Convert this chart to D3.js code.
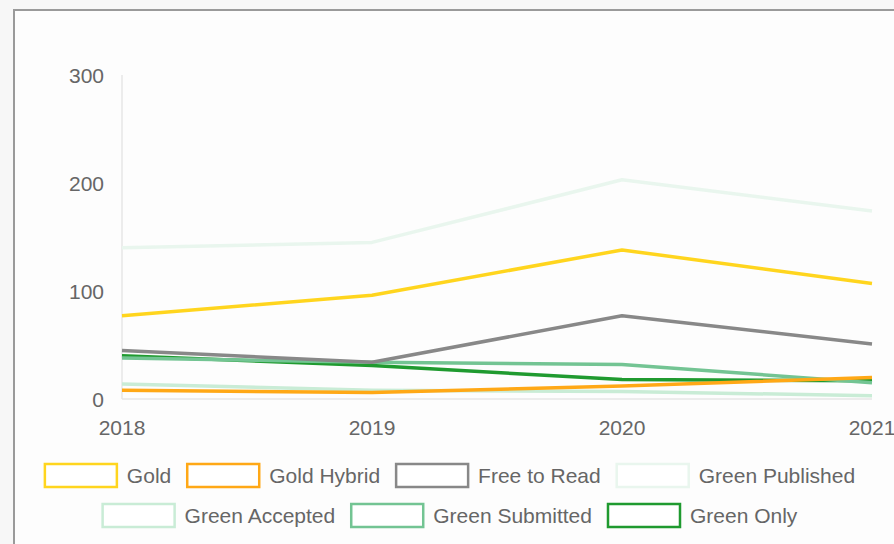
<!DOCTYPE html>
<html>
<head>
<meta charset="utf-8">
<script src="https://cdn.jsdelivr.net/npm/d3@7"></script>
<style>
  html, body { margin: 0; padding: 0; background: #f7f7f7; }
  #chart { position: absolute; left: 0; top: 0; }
  text { font-family: "Liberation Sans", Arial, sans-serif; fill: #666; }
</style>
</head>
<body>
<div id="chart"></div>
<script>
// data
const years = [2018, 2019, 2020, 2021];
const seriesNames = ["Gold", "Gold Hybrid", "Free to Read", "Green Published", "Green Accepted", "Green Submitted", "Green Only"];
const seriesColors = ["#ffd51e", "#ffa816", "#888888", "#e9f6ee", "#c9ecd6", "#73c493", "#1f9a2f"];
const gold = [77, 96, 138, 107];
const goldHybrid = [8, 6, 12, 20];
const freeToRead = [45, 34, 77, 51];
const greenPublished = [140, 145, 203, 174];
const greenAccepted = [14, 8, 7, 3];
const greenSubmitted = [38, 34, 32, 15];
const greenOnly = [40, 31, 18, 17];
const yTicks = [0, 100, 200, 300];

const seriesValues = [gold, goldHybrid, freeToRead, greenPublished, greenAccepted, greenSubmitted, greenOnly];

const W = 894, H = 544;
const svg = d3.select("#chart").append("svg")
    .attr("width", W)
    .attr("height", H);

// framed panel
svg.append("rect")
    .attr("x", 14).attr("y", 10)
    .attr("width", W + 20).attr("height", H + 20)
    .attr("fill", "#fdfdfd")
    .attr("stroke", "#9a9a9a")
    .attr("stroke-width", 2);

const x = d3.scaleLinear().domain([2018, 2021]).range([122, 872]);
const y = d3.scaleLinear().domain([0, 300]).range([399, 75]);

// axis lines
svg.append("line")
    .attr("x1", x(2018)).attr("x2", x(2018))
    .attr("y1", y(300)).attr("y2", y(0))
    .attr("stroke", "#e6e6e6").attr("stroke-width", 1.5);
svg.append("line")
    .attr("x1", x(2018)).attr("x2", x(2021))
    .attr("y1", y(0)).attr("y2", y(0))
    .attr("stroke", "#e6e6e6").attr("stroke-width", 1.5);

// y tick labels
svg.selectAll("text.ytick")
    .data(yTicks)
    .enter()
    .append("text")
    .attr("class", "ytick")
    .attr("x", 104)
    .attr("y", d => y(d))
    .attr("dy", "0.36em")
    .attr("text-anchor", "end")
    .style("font-size", "21px")
    .text(d => d);

// x tick labels
svg.selectAll("text.xtick")
    .data(years)
    .enter()
    .append("text")
    .attr("class", "xtick")
    .attr("x", d => x(d))
    .attr("y", 427)
    .attr("dy", "0.36em")
    .attr("text-anchor", "middle")
    .style("font-size", "21px")
    .text(d => d);

// lines, first series drawn last so it sits on top
const line = d3.line()
    .x((d, i) => x(years[i]))
    .y(d => y(d));

const order = d3.range(seriesNames.length).reverse();
svg.selectAll("path.series")
    .data(order)
    .enter()
    .append("path")
    .attr("class", "series")
    .attr("d", i => line(seriesValues[i]))
    .attr("fill", "none")
    .attr("stroke", i => seriesColors[i])
    .attr("stroke-width", 3.5)
    .attr("stroke-linejoin", "round");

// legend
const boxW = 72, boxH = 23, boxGap = 10, itemGap = 16, maxRow = 840;
const legend = svg.append("g");
const items = seriesNames.map((name, i) => {
    const g = legend.append("g");
    g.append("rect")
        .attr("width", boxW).attr("height", boxH)
        .attr("fill", "#fff")
        .attr("stroke", seriesColors[i])
        .attr("stroke-width", 2.5);
    const t = g.append("text")
        .attr("x", boxW + boxGap)
        .attr("y", boxH / 2)
        .attr("dy", "0.36em")
        .style("font-size", "21px")
        .text(name);
    return { g: g, w: boxW + boxGap + t.node().getComputedTextLength() };
});

const rows = [[]];
let rowW = 0;
items.forEach(it => {
    const add = rows[rows.length - 1].length ? itemGap + it.w : it.w;
    if (rowW + add > maxRow) { rows.push([it]); rowW = it.w; }
    else { rows[rows.length - 1].push(it); rowW += add; }
});

const rowTops = [464, 504];
rows.forEach((row, r) => {
    const total = d3.sum(row, d => d.w) + itemGap * (row.length - 1);
    let cx = 450 - total / 2;
    row.forEach(it => {
        it.g.attr("transform", `translate(${cx},${rowTops[r]})`);
        cx += it.w + itemGap;
    });
});
</script>
</body>
</html>
